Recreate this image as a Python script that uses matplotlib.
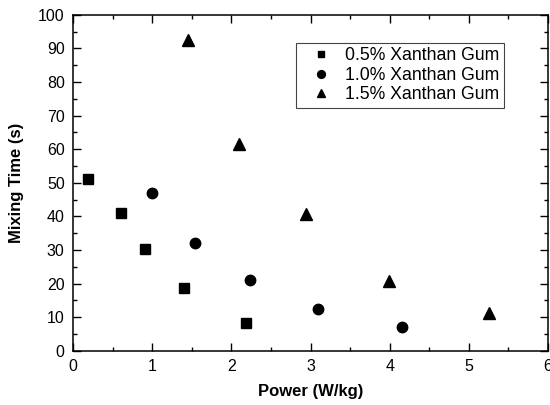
import matplotlib
matplotlib.use('Agg')
import matplotlib.pyplot as plt
from matplotlib.ticker import MultipleLocator

plt.rcParams['font.family'] = ['Liberation Sans', 'DejaVu Sans']

# data
power_05 = [0.19, 0.60, 0.915, 1.40, 2.19]
time_05 = [51.0, 41.0, 30.3, 18.7, 8.2]

power_10 = [1.00, 1.54, 2.23, 3.10, 4.15]
time_10 = [47.0, 32.0, 21.0, 12.4, 7.0]

power_15 = [1.45, 2.10, 2.94, 3.99, 5.26]
time_15 = [92.5, 61.5, 40.7, 20.8, 11.2]

labels = ['0.5% Xanthan Gum', '1.0% Xanthan Gum', '1.5% Xanthan Gum']

fig = plt.figure(figsize=(5.5, 4.05), dpi=100)
ax = fig.add_axes([73 / 550, 1 - 350.7 / 405, (548 - 73) / 550, (350.7 - 14.7) / 405])

ax.plot(power_05, time_05, 's', color='black', ms=6.5, label=labels[0])
ax.plot(power_10, time_10, 'o', color='black', ms=7.5, label=labels[1])
ax.plot(power_15, time_15, '^', color='black', ms=8.5, label=labels[2])

ax.set_xlim(0, 6)
ax.set_ylim(0, 100)
ax.xaxis.set_major_locator(MultipleLocator(1))
ax.xaxis.set_minor_locator(MultipleLocator(0.5))
ax.yaxis.set_major_locator(MultipleLocator(10))
ax.yaxis.set_minor_locator(MultipleLocator(5))
ax.tick_params(which='both', direction='in', top=True, right=True, width=1, labelsize=11.5)
ax.tick_params(which='major', length=5.5, pad=6)
ax.tick_params(which='minor', length=3)
for s in ax.spines.values():
    s.set_linewidth(1.1)

ax.set_xlabel('Power (W/kg)', fontsize=12, fontweight='bold', labelpad=7)
ax.set_ylabel('Mixing Time (s)', fontsize=12, fontweight='bold', labelpad=10)

# legend box placed where the reference has it
leg = ax.legend(loc='upper left', bbox_to_anchor=(296 / 550, 1 - 43 / 405),
                bbox_transform=fig.transFigure, fontsize=12.7, frameon=True,
                fancybox=False, edgecolor='#444444', borderaxespad=0,
                labelspacing=0.14, handlelength=2.3, handletextpad=0.25,
                borderpad=0.25, framealpha=1, markerscale=0.75)
leg.get_frame().set_linewidth(0.8)

fig.savefig('out.png', dpi=100)
